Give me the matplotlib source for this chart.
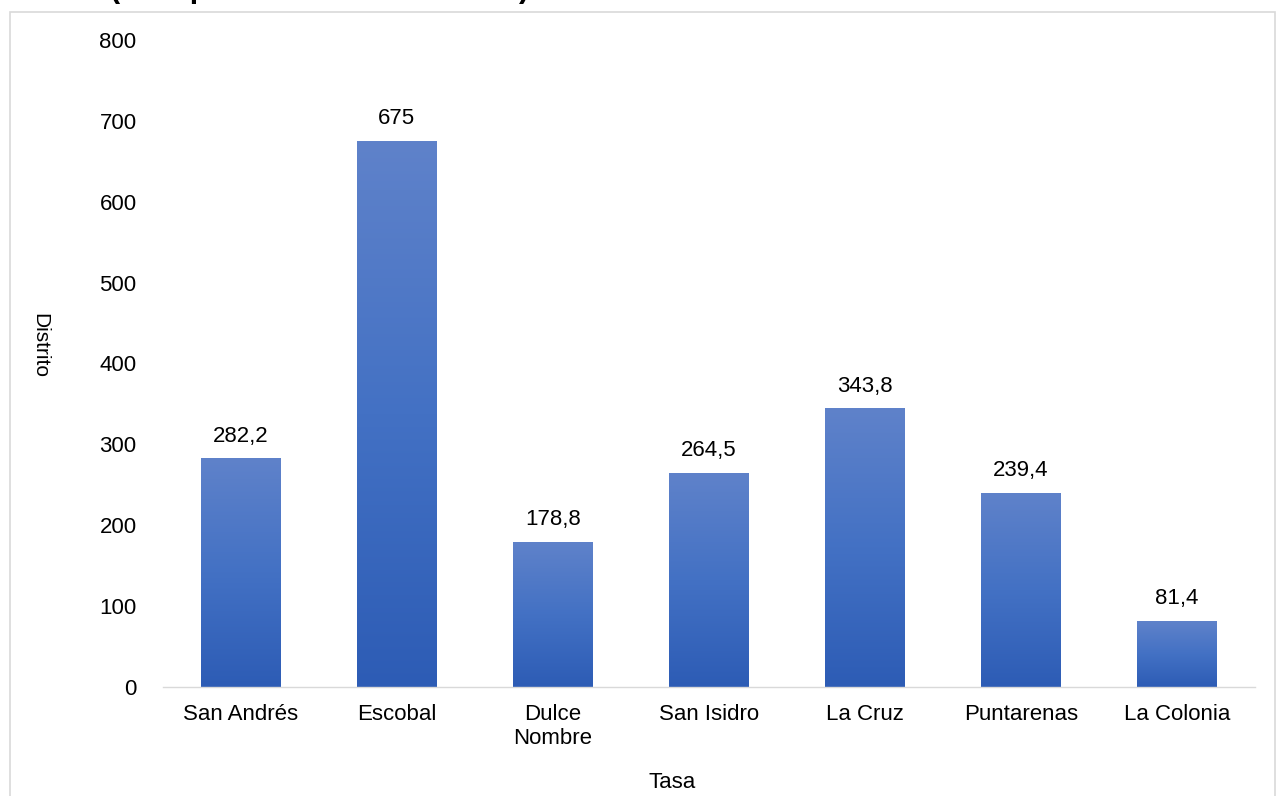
import matplotlib
matplotlib.use('Agg')
import matplotlib.pyplot as plt
import numpy as np
from matplotlib.patches import Rectangle
from matplotlib.colors import LinearSegmentedColormap

distritos = ['San Andrés', 'Escobal', 'Dulce\nNombre', 'San Isidro', 'La Cruz', 'Puntarenas', 'La Colonia']
tasas = [282.2, 675, 178.8, 264.5, 343.8, 239.4, 81.4]
etiquetas = ['282,2', '675', '178,8', '264,5', '343,8', '239,4', '81,4']

plt.rcParams['font.family'] = ['Liberation Sans', 'DejaVu Sans']

fig = plt.figure(figsize=(12.79, 7.96), dpi=100)
ax = fig.add_axes([0.1274, 0.137, 0.8536, 0.8127])

# marco gris claro alrededor del grafico
fig.patches.append(Rectangle((0.008, -0.01), 0.989, 0.995, transform=fig.transFigure,
                             fill=False, edgecolor='#d9d9d9', linewidth=1.2))
# titulo (cortado arriba, como en el original)
fig.text(110 / 1279, 1 + 3 / 796, '(tasa por 100 000 habitantes)',
         fontsize=22, fontweight='bold', va='baseline', ha='left')

cmap = LinearSegmentedColormap.from_list('grad', ['#2d5cb5', '#4371c4', '#5f82ca'])
grad = np.linspace(0, 1, 256).reshape(-1, 1)
w = 0.51
x = np.arange(len(distritos))
for i, v in enumerate(tasas):
    ax.imshow(grad, cmap=cmap, aspect='auto', origin='lower',
              extent=(x[i] - w / 2, x[i] + w / 2, 0, v), zorder=2)
    ax.text(x[i], v + 15, etiquetas[i], ha='center', va='bottom', fontsize=16)

ax.set_xlim(-0.5, len(distritos) - 0.5)
ax.set_ylim(0, 800)
ax.set_yticks(np.arange(0, 801, 100))
ax.set_xticks(x)
ax.set_xticklabels(distritos, fontsize=16, linespacing=1.2)
ax.tick_params(axis='y', labelsize=16, length=0, pad=19)
ax.tick_params(axis='x', length=0, pad=12)
for s in ['top', 'right', 'left']:
    ax.spines[s].set_visible(False)
ax.spines['bottom'].set_color('#d9d9d9')
ax.spines['bottom'].set_linewidth(1)

fig.text(672 / 1279, 1 - 783 / 796, 'Tasa', fontsize=16, ha='center', va='center')
fig.text(40 / 1279, 1 - 345 / 796, 'Distrito', fontsize=15, ha='center', va='center',
         rotation=270)

fig.savefig('out.png', dpi=100)
